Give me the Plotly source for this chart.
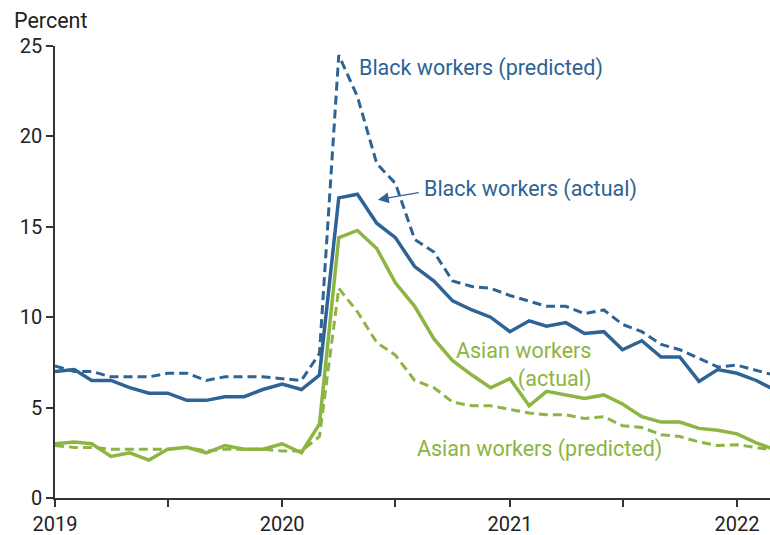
import plotly.graph_objects as go
import pandas as pd

months = pd.date_range("2019-01-01", "2022-03-01", freq="MS")

black_actual = [7.0, 7.1, 6.5, 6.5, 6.1, 5.8, 5.8, 5.4, 5.4, 5.6, 5.6, 6.0,
                6.3, 6.0, 6.8, 16.6, 16.8, 15.2, 14.4, 12.8, 12.0, 10.9, 10.4, 10.0,
                9.2, 9.8, 9.5, 9.7, 9.1, 9.2, 8.2, 8.7, 7.8, 7.8, 6.45, 7.1,
                6.9, 6.5, 6.0]
black_pred = [7.3, 7.0, 7.0, 6.7, 6.7, 6.7, 6.9, 6.9, 6.5, 6.7, 6.7, 6.7,
              6.6, 6.5, 8.0, 24.5, 22.2, 18.5, 17.4, 14.3, 13.6, 12.0, 11.7, 11.6,
              11.2, 10.9, 10.6, 10.6, 10.2, 10.4, 9.6, 9.2, 8.5, 8.2, 7.7, 7.25,
              7.35, 7.05, 6.8]
asian_actual = [3.0, 3.1, 3.0, 2.3, 2.5, 2.1, 2.7, 2.8, 2.5, 2.9, 2.7, 2.7,
                3.0, 2.5, 4.1, 14.4, 14.8, 13.8, 11.9, 10.6, 8.8, 7.6, 6.8, 6.1,
                6.6, 5.1, 5.9, 5.7, 5.5, 5.7, 5.2, 4.5, 4.2, 4.2, 3.85, 3.75,
                3.55, 3.05, 2.7]
asian_pred = [2.9, 2.8, 2.8, 2.7, 2.7, 2.7, 2.7, 2.8, 2.6, 2.7, 2.7, 2.7,
              2.6, 2.6, 3.4, 11.6, 10.3, 8.6, 7.9, 6.5, 6.1, 5.3, 5.1, 5.1,
              4.9, 4.7, 4.6, 4.6, 4.4, 4.5, 4.0, 3.9, 3.5, 3.4, 3.1, 2.9,
              2.95, 2.8, 2.65]

x_tick_vals = ["2019-01-01", "2019-07-01", "2020-01-01", "2020-07-01",
               "2021-01-01", "2021-07-01", "2022-01-01"]
x_tick_text = ["2019", "", "2020", "", "2021", "", "2022"]
y_tick_vals = [0, 5, 10, 15, 20, 25]

BLUE = "#2e6395"
GREEN = "#8cb541"
FONT = "Roboto"
ANN_SIZE = 21.5
TICK_SIZE = 20

fig = go.Figure()
fig.add_trace(go.Scatter(x=months, y=black_pred, mode="lines",
                         line=dict(color=BLUE, width=3, dash="9px,5px")))
fig.add_trace(go.Scatter(x=months, y=asian_pred, mode="lines",
                         line=dict(color=GREEN, width=3, dash="9px,5px")))
fig.add_trace(go.Scatter(x=months, y=asian_actual, mode="lines",
                         line=dict(color=GREEN, width=3.5)))
fig.add_trace(go.Scatter(x=months, y=black_actual, mode="lines",
                         line=dict(color=BLUE, width=3.5)))

annots = [
    dict(text="Black workers (predicted)", x="2020-05-01", y=23.8,
         xanchor="left", yanchor="middle", font=dict(color=BLUE, size=ANN_SIZE)),
    dict(text="Black workers (actual)", x="2020-08-12", y=17.1,
         xanchor="left", yanchor="middle", font=dict(color=BLUE, size=ANN_SIZE)),
    dict(text="Asian workers<br>(actual)", x="2021-05-15", y=7.35,
         xanchor="right", yanchor="middle", align="right",
         font=dict(color=GREEN, size=ANN_SIZE)),
    dict(text="Asian workers (predicted)", x="2020-08-01", y=2.7,
         xanchor="left", yanchor="middle", font=dict(color=GREEN, size=ANN_SIZE)),
]
for a in annots:
    a.update(xref="x", yref="y", showarrow=False, font_family=FONT)
    fig.add_annotation(**a)

fig.add_annotation(text="", x="2020-06-03", y=16.5, ax="2020-08-10", ay=16.9,
                   xref="x", yref="y", axref="x", ayref="y",
                   showarrow=True, arrowhead=2, arrowsize=1.8, arrowwidth=1.2,
                   arrowcolor=BLUE)

fig.add_annotation(text="Percent", xref="paper", yref="paper", x=0, y=1,
                   xanchor="left", yanchor="middle", xshift=-43, yshift=26,
                   showarrow=False, font=dict(family=FONT, size=ANN_SIZE, color="#222"))

fig.update_layout(
    width=770, height=535,
    margin=dict(l=55, r=0, t=46, b=37),
    plot_bgcolor="white", paper_bgcolor="white",
    showlegend=False,
    font=dict(family=FONT, size=TICK_SIZE, color="#222"),
)
fig.update_xaxes(range=["2019-01-01", "2022-02-23"], tickvals=x_tick_vals,
                 ticktext=x_tick_text, ticks="outside", ticklen=7,
                 tickcolor="#333", tickwidth=1.5, showline=True,
                 linecolor="#333", linewidth=1.5, showgrid=False,
                 zeroline=False, automargin=False,
                 tickfont=dict(size=TICK_SIZE, family=FONT, color="#222"))
fig.update_yaxes(range=[0, 25], tickvals=y_tick_vals, ticks="outside",
                 ticklen=7, tickcolor="#333", tickwidth=1.5, showline=True,
                 linecolor="#333", linewidth=1.5, showgrid=False,
                 zeroline=False, automargin=False,
                 tickfont=dict(size=TICK_SIZE, family=FONT, color="#222"))

fig.write_html("out.html", config={"displayModeBar": False},
               post_script="document.body.style.margin='0';document.body.style.overflow='hidden';")
